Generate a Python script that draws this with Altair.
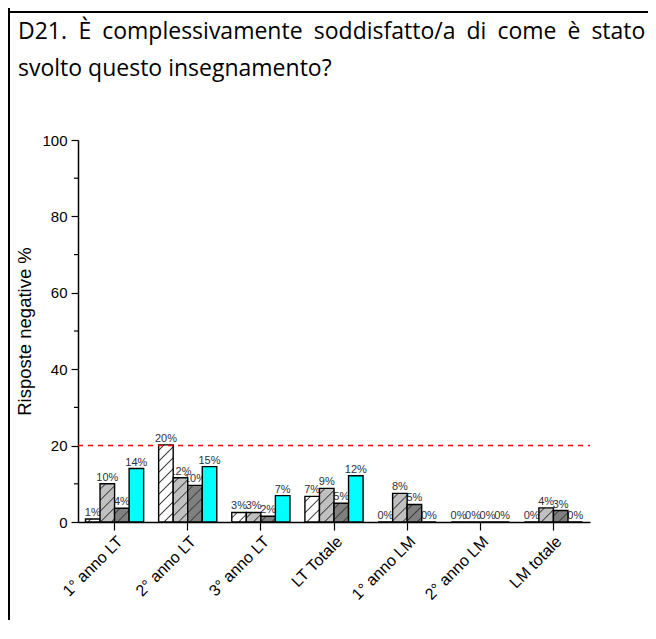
import altair as alt

# ---------------- data ----------------
categories = ["1° anno LT", "2° anno LT", "3° anno LT", "LT Totale",
              "1° anno LM", "2° anno LM", "LM totale"]
series = ["Serie 1", "Serie 2", "Serie 3", "Serie 4"]

values_s1 = [0.8, 20.2, 2.5, 6.7, 0.0, 0.0, 0.0]
values_s2 = [10.0, 11.6, 2.5, 8.8, 7.5, 0.0, 3.7]
values_s3 = [3.6, 9.6, 1.5, 4.9, 4.6, 0.0, 3.0]
values_s4 = [14.0, 14.5, 6.9, 12.1, 0.0, 0.0, 0.0]

labels_s1 = ["1%", "20%", "3%", "7%", "0%", "0%", "0%"]
labels_s2 = ["10%", "12%", "3%", "9%", "8%", "0%", "4%"]
labels_s3 = ["4%", "10%", "2%", "5%", "5%", "0%", "3%"]
labels_s4 = ["14%", "15%", "7%", "12%", "0%", "0%", "0%"]

threshold = [20]
minor_ticks = [10, 30, 50, 70, 90]

title_line1 = "D21. È complessivamente soddisfatto/a di come è stato"
title_line2 = "svolto questo insegnamento?"
y_title = "Risposte negative %"

# ---------------- styles / layout ----------------
PLOT_W, PLOT_H = 512, 382
PAD_L, PAD_T, TOTAL_W, TOTAL_H = 70, 132, 640, 612
BAR_W = PLOT_W / 7 * (1 - 0.205) / 4
PX_PER_UNIT = PLOT_H / 100.0
base_colors = ["#ffffff", "#c0c0c0", "#808080", "#00ffff"]
is_hatched = [True, True, True, False]
HATCH_COLOR = "#3a3a3a"
N_STRIPES, PERIOD = 10, 11.0
TITLE_FONT, TITLE_SIZE = "Open Sans", 23
FONT = "Liberation Sans"


def hatch_fill(color, hatched, value):
    if not hatched:
        return color
    h = max(value * PX_PER_UNIT, 0.5)
    a = N_STRIPES * PERIOD / (BAR_W ** 2 + h ** 2)
    stops = [{"offset": 0, "color": color}]
    d = 0.012
    for k in range(N_STRIPES):
        c = (k + 0.5) / N_STRIPES
        stops += [{"offset": c - d, "color": color},
                  {"offset": c, "color": HATCH_COLOR},
                  {"offset": c + d, "color": color}]
    stops.append({"offset": 1, "color": color})
    return {"gradient": "linear", "x1": 0, "y1": 0,
            "x2": a * BAR_W, "y2": a * h, "stops": stops}


all_values = [values_s1, values_s2, values_s3, values_s4]
all_labels = [labels_s1, labels_s2, labels_s3, labels_s4]
records = []
for si, s in enumerate(series):
    for ci, cat in enumerate(categories):
        v = all_values[si][ci]
        records.append({"categoria": cat, "serie": s, "value": v,
                        "label": all_labels[si][ci],
                        "fill": hatch_fill(base_colors[si], is_hatched[si], v)})

# approximate Open Sans advance widths (em) to justify the first title line
_w = {" ": .26, "D": .740, "2": .572, "1": .572, ".": .266, "È": .556,
      "c": .479, "o": .602, "m": .928, "p": .613, "l": .258, "e": .561,
      "s": .479, "i": .258, "v": .5, "a": .556, "n": .613, "t": .347,
      "d": .613, "f": .336, "/": .367, "è": .561}
words = title_line1.split(" ")
wlen = [sum(_w.get(ch, .55) for ch in w) * TITLE_SIZE for w in words]
x_left, x_right = 18 - 78, 645 - 78
gap = (x_right - x_left - sum(wlen)) / (len(words) - 1)
word_rows = []
xpos = x_left
for w, L in zip(words, wlen):
    word_rows.append({"w": w, "px": xpos})
    xpos += L + gap

x_enc = alt.X("categoria:N", sort=categories,
              scale=alt.Scale(paddingInner=0.205, paddingOuter=0.1025),
              axis=alt.Axis(title=None, labelAngle=-45, labelFontSize=16,
                            labelFont=FONT, labelColor="black",
                            tickSize=8, tickColor="black", tickWidth=1.2,
                            domainColor="black", domainWidth=1.5,
                            labelPadding=3, labelAlign="right",
                            labelBaseline="top", grid=False))
xo_enc = alt.XOffset("serie:N", sort=series,
                     scale=alt.Scale(paddingInner=0, paddingOuter=0))
y_enc = alt.Y("value:Q", scale=alt.Scale(domain=[0, 100], nice=False),
              axis=alt.Axis(title=y_title, values=[0, 20, 40, 60, 80, 100],
                            labelFontSize=15, labelFont=FONT,
                            labelColor="black", titleFont=FONT,
                            titleFontSize=18.5, titleFontWeight="normal",
                            titleColor="black", titlePadding=7,
                            tickSize=7, tickColor="black", tickWidth=1.2,
                            domainColor="black", domainWidth=1.5,
                            labelPadding=4, grid=False))

main = alt.Chart(alt.Data(values=records))

labels = main.mark_text(baseline="bottom", dy=-1, fontSize=11, font=FONT,
                        color="#30303a").encode(
    x=x_enc, xOffset=xo_enc, y=y_enc, text="label:N")

bars = main.mark_bar(stroke="black", strokeWidth=1.4).encode(
    x=x_enc, xOffset=xo_enc, y=y_enc,
    fill=alt.Fill("fill:N", scale=None))

ref_line = alt.Chart(alt.Data(values=[{"value": v} for v in threshold])).mark_rule(
    color="#ff0000", strokeDash=[5, 5], strokeWidth=1.5).encode(
    y=y_enc, x=alt.value(0), x2=alt.value(PLOT_W))

minor = alt.Chart(alt.Data(values=[{"value": v} for v in minor_ticks])).mark_rule(
    color="black", strokeWidth=1.2).encode(
    y=y_enc, x=alt.value(-4), x2=alt.value(0))

one = alt.Data(values=[{"k": 0}])
border_v = alt.Chart(one).mark_rule(color="black", strokeWidth=2).encode(
    x=alt.value(-PAD_L + 1), y=alt.value(-PAD_T), y2=alt.value(TOTAL_H - PAD_T))
border_h = alt.Chart(one).mark_rule(color="black", strokeWidth=2).encode(
    x=alt.value(-PAD_L), x2=alt.value(TOTAL_W - PAD_L), y=alt.value(-128))

t1 = alt.Chart(alt.Data(values=word_rows)).mark_text(
    align="left", baseline="alphabetic", font=TITLE_FONT,
    fontSize=TITLE_SIZE, color="black").encode(
    x=alt.X("px:Q", scale=None), y=alt.value(-101), text="w:N")
t2 = alt.Chart(one).mark_text(text=title_line2, align="left",
                              baseline="alphabetic", font=TITLE_FONT,
                              fontSize=TITLE_SIZE, color="black").encode(
    x=alt.value(-60), y=alt.value(-64))

chart = alt.layer(labels, bars, ref_line, minor, border_v, border_h, t1, t2).properties(
    width=PLOT_W, height=PLOT_H,
    autosize=alt.AutoSizeParams(type="none"),
    padding={"left": PAD_L, "top": PAD_T, "right": TOTAL_W - PAD_L - PLOT_W,
             "bottom": TOTAL_H - PAD_T - PLOT_H},
    background="white",
).configure_view(stroke=None)

chart.save("out.html", embed_options={"renderer": "svg", "actions": False})
